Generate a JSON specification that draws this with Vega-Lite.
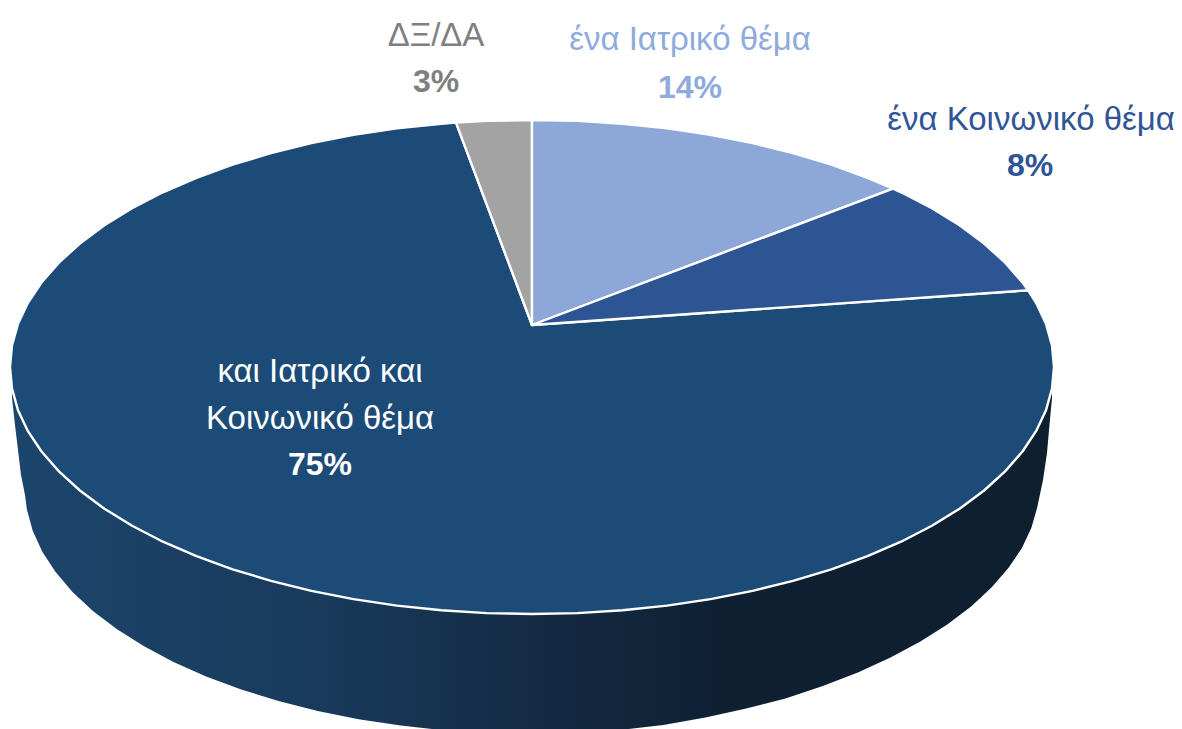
{
"$schema":"https://vega.github.io/schema/vega-lite/v6.json",
"width":1182,"height":729,"padding":0,
"autosize":{"type":"fit","contains":"padding"},
"background":"white",
"config":{"view":{"stroke":null}},
"projection":{"type":"identity","scale":1,"translate":[0,0]},
"datasets":{
"wall":[{"type":"Feature","properties":{"category":"πλευρά"},"geometry":{"type":"Polygon","coordinates":[[[12,398],[15,425],[18,450],[21,475],[25,495],[26.9,509.4],[32.7,530.7],[42.3,551.7],[55.6,572.1],[72.5,592],[92.9,611],[116.7,629.1],[143.6,646.1],[173.5,662],[206.1,676.4],[241.2,689.5],[278.5,701],[317.7,710.9],[358.6,719.2],[400.8,725.6],[444,730.3],[487.8,733.1],[532,734],[576.2,733],[620,730],[663.2,725],[705.4,717.5],[746.3,708.5],[785.5,698.5],[822.8,686],[857.9,672.5],[890.5,657.5],[920.4,641.5],[947.3,624.5],[971.1,606.5],[991.5,587.5],[1008.4,568],[1021.7,548.5],[1031.3,528],[1037.1,508],[1043,480],[1047,453],[1049,430],[1052,398],[1052,367],[12,367],[12,398]]]}}],
"slices":[
{"type":"Feature","properties":{"category":"και Ιατρικό και Κοινωνικό θέμα","value":75},"geometry":{"type":"Polygon","coordinates":[[[532,325],[1028.2,290.3],[1036.2,303.1],[1046.1,324.1],[1052,345.5],[1054,367],[1052,388.5],[1046.1,409.9],[1036.2,430.9],[1022.5,451.5],[1005.1,471.4],[984.1,490.5],[959.6,508.7],[931.9,525.8],[901.1,541.7],[867.5,556.2],[831.4,569.3],[793,580.9],[752.6,590.9],[710.5,599.1],[667.1,605.6],[622.6,610.2],[577.5,613.1],[532,614],[486.5,613.1],[441.4,610.2],[396.9,605.6],[353.5,599.1],[311.4,590.9],[271,580.9],[232.6,569.3],[196.5,556.2],[162.9,541.7],[132.1,525.8],[104.4,508.7],[79.9,490.5],[58.9,471.4],[41.5,451.5],[27.8,430.9],[17.9,409.9],[12,388.5],[10,367],[12,345.5],[17.9,324.1],[27.8,303.1],[41.5,282.5],[58.9,262.6],[79.9,243.5],[104.4,225.3],[132.1,208.2],[162.9,192.3],[196.5,177.8],[232.6,164.7],[271,153.1],[311.4,143.1],[353.5,134.9],[396.9,128.4],[441.4,123.8],[456,122.6],[532,325]]]}},
{"type":"Feature","properties":{"category":"ΔΞ/ΔΑ","value":3},"geometry":{"type":"Polygon","coordinates":[[[532,325],[456,122.6],[486.5,120.9],[532,120],[532,325]]]}},
{"type":"Feature","properties":{"category":"ένα Ιατρικό θέμα","value":14},"geometry":{"type":"Polygon","coordinates":[[[532,325],[532,120],[577.5,120.9],[622.6,123.8],[667.1,128.4],[710.5,134.9],[752.6,143.1],[793,153.1],[831.4,164.7],[867.5,177.8],[893,188.6],[532,325]]]}},
{"type":"Feature","properties":{"category":"ένα Κοινωνικό θέμα","value":8},"geometry":{"type":"Polygon","coordinates":[[[532,325],[893,188.6],[901.1,192.3],[931.9,208.2],[959.6,225.3],[984.1,243.5],[1005.1,262.6],[1022.5,282.5],[1028.2,290.3],[532,325]]]}}
],
"names":[
{"category":"ΔΞ/ΔΑ","line":"ΔΞ/ΔΑ","lon":436,"lat":46},
{"category":"ένα Ιατρικό θέμα","line":"ένα Ιατρικό θέμα","lon":690,"lat":50},
{"category":"ένα Κοινωνικό θέμα","line":"ένα Κοινωνικό θέμα","lon":1031,"lat":130},
{"category":"και Ιατρικό και Κοινωνικό θέμα","line":"και Ιατρικό και","lon":320,"lat":382},
{"category":"και Ιατρικό και Κοινωνικό θέμα","line":"Κοινωνικό θέμα","lon":320,"lat":429}
],
"shares":[
{"category":"ΔΞ/ΔΑ","line":"3%","lon":436,"lat":92},
{"category":"ένα Ιατρικό θέμα","line":"14%","lon":690,"lat":98},
{"category":"ένα Κοινωνικό θέμα","line":"8%","lon":1030,"lat":176},
{"category":"και Ιατρικό και Κοινωνικό θέμα","line":"75%","lon":320,"lat":475}
]
},
"layer":[
{"data":{"name":"wall"},
 "mark":{"type":"geoshape","clip":true,"strokeWidth":0,"fill":{"gradient":"linear","x1":0,"x2":1,"y1":0,"y2":0,"stops":[{"offset":0,"color":"#1C456C"},{"offset":0.3,"color":"#193A5B"},{"offset":0.5,"color":"#142B44"},{"offset":0.68,"color":"#0F2033"},{"offset":1,"color":"#0E1F30"}]}},
 "encoding":{}},
{"data":{"name":"slices"},
 "mark":{"type":"geoshape","stroke":"white","strokeWidth":2.4,"strokeJoin":"round"},
 "encoding":{"fill":{"field":"properties.category","type":"nominal","legend":null,
   "scale":{"domain":["και Ιατρικό και Κοινωνικό θέμα","ΔΞ/ΔΑ","ένα Ιατρικό θέμα","ένα Κοινωνικό θέμα"],"range":["#1C4B77","#A3A3A3","#8DA7D8","#2D5493"]}}}},
{"data":{"name":"names"},
 "mark":{"type":"text","font":"Liberation Sans","fontSize":33,"align":"center","baseline":"alphabetic"},
 "encoding":{"longitude":{"field":"lon","type":"quantitative"},"latitude":{"field":"lat","type":"quantitative"},"text":{"field":"line"},
  "fill":{"field":"category","type":"nominal","legend":null,"scale":{"domain":["και Ιατρικό και Κοινωνικό θέμα","ΔΞ/ΔΑ","ένα Ιατρικό θέμα","ένα Κοινωνικό θέμα"],"range":["#FFFFFF","#7F7F7F","#8FAADC","#2F5597"]}}}},
{"data":{"name":"shares"},
 "mark":{"type":"text","font":"Liberation Sans","fontSize":32,"fontWeight":"bold","align":"center","baseline":"alphabetic"},
 "encoding":{"longitude":{"field":"lon","type":"quantitative"},"latitude":{"field":"lat","type":"quantitative"},"text":{"field":"line"},
  "fill":{"field":"category","type":"nominal","legend":null,"scale":{"domain":["και Ιατρικό και Κοινωνικό θέμα","ΔΞ/ΔΑ","ένα Ιατρικό θέμα","ένα Κοινωνικό θέμα"],"range":["#FFFFFF","#7F7F7F","#8FAADC","#2F5597"]}}}}
],
"resolve":{"scale":{"fill":"independent"}}
}
